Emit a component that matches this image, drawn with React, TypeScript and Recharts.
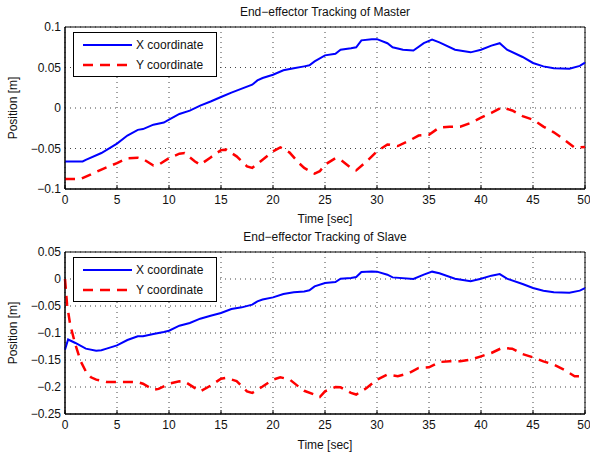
import React from 'react';
import {
  LineChart,
  Line,
  XAxis,
  YAxis,
  CartesianGrid,
  ReferenceArea,
} from 'recharts';

// Master end-effector, X coordinate [m]
const masterXTime = [0, 1.7, 2, 3.5, 5, 6, 7, 7.5, 8.5, 9.5, 10, 11, 12, 13, 14, 15, 16, 17, 18, 18.5, 19, 20, 21, 22, 23, 23.5, 24, 25, 26, 26.5, 27.5, 28, 28.5, 29.5, 30, 31, 31.5, 32.5, 33.5, 34.5, 35.3, 36, 37.5, 39, 40, 41, 41.8, 42.5, 44, 45, 46, 47, 48.5, 49.5, 50];
const masterX = [-0.066, -0.066, -0.064, -0.0556, -0.044, -0.034, -0.027, -0.026, -0.0206, -0.018, -0.0144, -0.0074, -0.0033, 0.0029, 0.008, 0.0136, 0.019, 0.024, 0.0288, 0.034, 0.037, 0.041, 0.0465, 0.049, 0.0514, 0.0527, 0.0576, 0.065, 0.067, 0.072, 0.0737, 0.075, 0.0835, 0.085, 0.085, 0.08, 0.075, 0.072, 0.071, 0.08, 0.0844, 0.081, 0.072, 0.0687, 0.072, 0.077, 0.08, 0.072, 0.063, 0.0556, 0.0514, 0.049, 0.0486, 0.052, 0.056];

// Master end-effector, Y coordinate [m]
const masterYTime = [0, 1.5, 2.5, 3.5, 5, 6, 7, 7.5, 8.5, 9, 10, 11, 11.5, 12.5, 13, 14, 15, 15.5, 16.5, 17.5, 18, 19, 20, 20.7, 21.6, 22.5, 23, 24, 24.5, 25, 26, 26.5, 27.5, 28, 29, 30, 31, 32, 33, 34, 35, 36, 37, 38, 39, 40, 41, 42, 43, 44, 45, 46, 47, 48, 49, 50];
const masterY = [-0.0877, -0.0877, -0.082, -0.076, -0.068, -0.062, -0.0613, -0.063, -0.071, -0.07, -0.062, -0.0564, -0.0556, -0.066, -0.07, -0.061, -0.052, -0.0514, -0.0597, -0.072, -0.074, -0.0638, -0.0535, -0.0486, -0.055, -0.068, -0.074, -0.081, -0.078, -0.07, -0.062, -0.064, -0.074, -0.077, -0.066, -0.0535, -0.045, -0.047, -0.041, -0.034, -0.033, -0.024, -0.023, -0.023, -0.0185, -0.012, -0.006, 0.0008, -0.003, -0.01, -0.0144, -0.023, -0.03, -0.039, -0.049, -0.048];

// Slave end-effector, X coordinate [m]
const slaveXTime = [0, 0.3, 1, 2, 3, 3.5, 4, 5, 6, 7, 7.5, 8.5, 9.5, 10, 11, 12, 13, 14, 15, 16, 17, 18, 18.5, 19, 20, 21, 22, 23, 23.5, 24, 25, 26, 26.5, 27.5, 28, 28.5, 29.5, 30, 31, 31.5, 33.5, 34.5, 35.3, 36, 37.5, 39, 40, 41, 41.8, 42.5, 44, 45, 46, 47, 48.5, 49.5, 50];
const slaveX = [-0.131, -0.112, -0.1185, -0.129, -0.1327, -0.132, -0.129, -0.123, -0.113, -0.106, -0.106, -0.102, -0.098, -0.0957, -0.0864, -0.0815, -0.0735, -0.068, -0.063, -0.0556, -0.0525, -0.0475, -0.0414, -0.038, -0.034, -0.0278, -0.0247, -0.023, -0.021, -0.0136, -0.0074, -0.0056, 0.0006, 0.0018, 0.0037, 0.013, 0.014, 0.0136, 0.008, 0.003, 0, 0.008, 0.0136, 0.0105, 0.0006, -0.0043, 0.0006, 0.0062, 0.009, 0.0006, -0.0093, -0.0167, -0.0216, -0.0247, -0.0253, -0.0216, -0.0167];

// Slave end-effector, Y coordinate [m]
const slaveYTime = [0, 0.2, 0.5, 1, 1.5, 2, 2.5, 3, 4, 5, 6, 7, 7.5, 8.5, 9, 10, 11, 11.5, 12.5, 13, 14, 15, 15.5, 16.5, 17.5, 18, 19, 20, 20.7, 21.6, 22.5, 23, 24, 24.5, 25, 26, 26.5, 27.5, 28, 29, 30, 31, 32, 33, 34, 35, 36, 37, 38, 39, 40, 41, 42, 43, 44, 45, 46, 47, 48, 49, 50];
const slaveY = [0, -0.0475, -0.0846, -0.1216, -0.152, -0.171, -0.182, -0.1864, -0.1907, -0.1907, -0.1907, -0.191, -0.194, -0.205, -0.2035, -0.194, -0.1895, -0.19, -0.202, -0.208, -0.1975, -0.1846, -0.183, -0.189, -0.208, -0.211, -0.199, -0.1864, -0.182, -0.186, -0.2, -0.207, -0.214, -0.2185, -0.208, -0.2, -0.2006, -0.211, -0.214, -0.202, -0.1864, -0.177, -0.18, -0.175, -0.1648, -0.1636, -0.1537, -0.1525, -0.1525, -0.1494, -0.1432, -0.137, -0.1278, -0.129, -0.139, -0.145, -0.1525, -0.1586, -0.168, -0.18, -0.18];

const timeTicks = [0, 5, 10, 15, 20, 25, 30, 35, 40, 45, 50];
const masterTicks = [-0.1, -0.05, 0, 0.05, 0.1];
const slaveTicks = [-0.25, -0.2, -0.15, -0.1, -0.05, 0, 0.05];

const seriesNames = ['X coordinate', 'Y coordinate'];

const toPoints = (t: number[], v: number[]) => t.map((x, i) => ({ t: x, v: v[i] }));

const FONT = 'Liberation Sans, Arial, Helvetica, sans-serif';
const TEXT = '#111';
const fmt = (v: number) => String(v).replace('-', '\u2212');

function MatlabLegend({ top }: { top: number }) {
  return (
    <div
      style={{
        position: 'absolute',
        left: 73,
        top,
        width: 144,
        height: 45,
        border: '1px solid #000',
        background: '#fff',
        fontFamily: FONT,
        fontSize: 12,
        color: TEXT,
        boxSizing: 'border-box',
        zIndex: 2,
      }}
    >
      {seriesNames.map((name, i) => (
        <div key={name} style={{ display: 'flex', alignItems: 'center', height: 20, marginTop: i === 0 ? 2 : 0 }}>
          <svg width={62} height={20} style={{ display: 'block' }}>
            <line
              x1={9}
              x2={58}
              y1={10}
              y2={10}
              stroke={i === 0 ? '#0000ff' : '#ff0000'}
              strokeWidth={i === 0 ? 2 : 2.5}
              strokeDasharray={i === 0 ? undefined : '10 7'}
            />
          </svg>
          <span>{name}</span>
        </div>
      ))}
    </div>
  );
}

interface PanelProps {
  title: string;
  xData: { t: number; v: number }[];
  yData: { t: number; v: number }[];
  ticks: number[];
  top: number;
  axisH: number;
}

function Panel({ title, xData, yData, ticks, top, axisH }: PanelProps) {
  const lo = ticks[0];
  const hi = ticks[ticks.length - 1];
  return (
    <div style={{ position: 'relative', width: 590, height: 226 }}>
      <div
        style={{
          position: 'absolute',
          top: top - 22,
          left: 65,
          width: 520,
          textAlign: 'center',
          fontFamily: FONT,
          fontSize: 12,
          color: TEXT,
        }}
      >
        {title}
      </div>
      <MatlabLegend top={top + 5} />
      <LineChart width={590} height={226} margin={{ top, right: 5, bottom: 0, left: 0 }}>
        <CartesianGrid
          xAxisId="main"
          yAxisId="main"
          stroke="#444"
          strokeDasharray="1 4"
          horizontalValues={ticks}
          verticalValues={timeTicks}
        />
        <XAxis
          xAxisId="main"
          type="number"
          dataKey="t"
          domain={[0, 50]}
          ticks={timeTicks}
          height={axisH}
          stroke="#000"
          tickSize={-4}
          tickMargin={10}
          tick={{ fill: TEXT, fontSize: 12, fontFamily: FONT }}
          label={{ value: 'Time [sec]', position: 'insideBottom', offset: 3, fill: TEXT, fontSize: 12, fontFamily: FONT }}
        />
        <YAxis
          yAxisId="main"
          type="number"
          domain={[lo, hi]}
          ticks={ticks}
          width={65}
          stroke="#000"
          tickLine={false}
          tickSize={0}
          tickMargin={4}
          tickFormatter={fmt}
          interval={0}
          tick={{ fill: TEXT, fontSize: 12, fontFamily: FONT }}
          label={{ value: 'Position [m]', angle: -90, position: 'insideLeft', offset: 13, fill: TEXT, fontSize: 12, fontFamily: FONT, style: { textAnchor: 'middle' } }}
        />
        <ReferenceArea
          xAxisId="main"
          yAxisId="main"
          x1={0}
          x2={50}
          y1={lo}
          y2={hi}
          fill="none"
          stroke="#000"
          strokeWidth={1}
          ifOverflow="visible"
        />
        <Line
          xAxisId="main"
          yAxisId="main"
          data={xData}
          dataKey="v"
          type="linear"
          stroke="#0000ff"
          strokeWidth={2}
          dot={false}
          isAnimationActive={false}
        />
        <Line
          xAxisId="main"
          yAxisId="main"
          data={yData}
          dataKey="v"
          type="linear"
          stroke="#ff0000"
          strokeWidth={2.5}
          strokeDasharray="10 7"
          dot={false}
          isAnimationActive={false}
        />
      </LineChart>
    </div>
  );
}

export default function App() {
  return (
    <div style={{ position: 'absolute', left: 0, top: 0, width: 590, height: 452, background: '#fff' }}>
      <Panel
        title={'End\u2212effector Tracking of Master'}
        xData={toPoints(masterXTime, masterX)}
        yData={toPoints(masterYTime, masterY)}
        ticks={masterTicks}
        top={27}
        axisH={37}
      />
      <Panel
        title={'End\u2212effector Tracking of Slave'}
        xData={toPoints(slaveXTime, slaveX)}
        yData={toPoints(slaveYTime, slaveY)}
        ticks={slaveTicks}
        top={26}
        axisH={38}
      />
    </div>
  );
}
